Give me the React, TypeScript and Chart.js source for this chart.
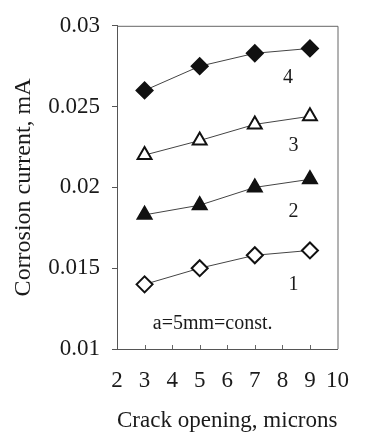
import React, { useEffect, useRef } from "react";
import { Chart, registerables } from "chart.js";

Chart.register(...registerables);

const xValues = [3, 5, 7, 9];
const series1 = [0.014, 0.015, 0.0158, 0.0161];
const series2 = [0.0183, 0.0189, 0.02, 0.0205];
const series3 = [0.022, 0.0229, 0.0239, 0.0244];
const series4 = [0.026, 0.0275, 0.0283, 0.0286];

const seriesNames = ["1", "2", "3", "4"];
const curveLabelX = [8.4, 8.4, 8.4, 8.2];
const curveLabelY = [0.014, 0.0185, 0.02255, 0.0268];
const noteText = "a=5mm=const.";
const noteX = 5.47;
const noteY = 0.01156;

const xTickValues = [2, 3, 4, 5, 6, 7, 8, 9, 10];
const yTickLabels = ["0.01", "0.015", "0.02", "0.025", "0.03"];

const FONT = "'Liberation Serif', 'Times New Roman', serif";
const INK = "#1a1a1a";

const decorPlugin = {
  id: "decor",
  afterDraw(chart: any) {
    const { ctx, chartArea } = chart;
    const xs = chart.scales.x;
    const ys = chart.scales.y;
    ctx.save();
    ctx.strokeStyle = "#666";
    ctx.lineWidth = 1;
    ctx.beginPath();
    ctx.moveTo(chartArea.left, chartArea.top + 0.5);
    ctx.lineTo(chartArea.right + 0.5, chartArea.top + 0.5);
    ctx.lineTo(chartArea.right + 0.5, chartArea.bottom);
    ctx.stroke();
    // inward x ticks
    ctx.beginPath();
    xTickValues.slice(1, -1).forEach((v) => {
      const px = Math.round(xs.getPixelForValue(v)) + 0.5;
      ctx.moveTo(px, chartArea.bottom);
      ctx.lineTo(px, chartArea.bottom - 4);
    });
    ctx.stroke();
    // curve labels
    ctx.fillStyle = INK;
    ctx.textAlign = "center";
    ctx.textBaseline = "middle";
    ctx.font = `20px ${FONT}`;
    seriesNames.forEach((n, i) => {
      ctx.fillText(n, xs.getPixelForValue(curveLabelX[i]), ys.getPixelForValue(curveLabelY[i]));
    });
    ctx.font = `20px ${FONT}`;
    ctx.fillText(noteText, xs.getPixelForValue(noteX), ys.getPixelForValue(noteY));
    ctx.restore();
  },
};

export default function App() {
  const ref = useRef<HTMLCanvasElement | null>(null);
  useEffect(() => {
    if (!ref.current) return;
    const mk = (data: number[], style: string, fill: string) => ({
      data: xValues.map((x, i) => ({ x, y: data[i] })),
      borderColor: "#444",
      borderWidth: 1,
      pointStyle: style,
      pointRadius: 8,
      pointBackgroundColor: fill,
      pointBorderColor: "#111",
      pointBorderWidth: 2,
      fill: false,
      tension: 0,
    });
    const chart = new Chart(ref.current, {
      type: "line",
      data: {
        datasets: [
          mk(series1, "rectRot", "#fff"),
          mk(series2, "triangle", "#111"),
          mk(series3, "triangle", "#fff"),
          mk(series4, "rectRot", "#111"),
        ] as any,
      },
      options: {
        animation: false,
        responsive: true,
        maintainAspectRatio: false,
        layout: { padding: { top: 16, right: 17, left: 0, bottom: 0 } },
        plugins: { legend: { display: false }, tooltip: { enabled: false } },
        scales: {
          x: {
            type: "linear",
            min: 2,
            max: 10,
            afterBuildTicks: (s: any) => {
              s.ticks = xTickValues.map((v) => ({ value: v }));
            },
            afterFit: (s: any) => {
              s.height = 88;
            },
            grid: { drawOnChartArea: false, drawTicks: false },
            border: { display: true, color: "#555", width: 1 },
            ticks: {
              padding: 18,
              color: INK,
              font: { family: FONT, size: 23 },
              maxRotation: 0,
              autoSkip: false,
            },
            title: {
              display: true,
              text: "Crack opening, microns",
              color: INK,
              font: { family: FONT, size: 24 },
              padding: { top: 0, bottom: 2 },
            },
          },
          y: {
            type: "linear",
            min: 0.01,
            max: 0.03,
            afterBuildTicks: (s: any) => {
              s.ticks = yTickLabels.map((t) => ({ value: parseFloat(t) }));
            },
            afterFit: (s: any) => {
              s.width = 117;
            },
            grid: { drawOnChartArea: false, drawTicks: true, tickLength: 5, color: "#555" },
            border: { display: true, color: "#555", width: 1 },
            ticks: {
              padding: 12,
              color: INK,
              font: { family: FONT, size: 23 },
              callback: (v: any) => {
                const i = yTickLabels.findIndex((t) => Math.abs(parseFloat(t) - v) < 1e-9);
                return i >= 0 ? yTickLabels[i] : "";
              },
            },
            title: {
              display: true,
              text: "Corrosion current, mA",
              color: INK,
              font: { family: FONT, size: 24 },
              padding: { top: 9, bottom: 0 },
            },
          },
        },
      } as any,
      plugins: [decorPlugin],
    });
    return () => chart.destroy();
  }, []);
  return (
    <div style={{ position: "fixed", left: 0, top: 0, width: 367, height: 437, background: "#fff" }}>
      <canvas ref={ref} style={{ display: "block" }} />
    </div>
  );
}
